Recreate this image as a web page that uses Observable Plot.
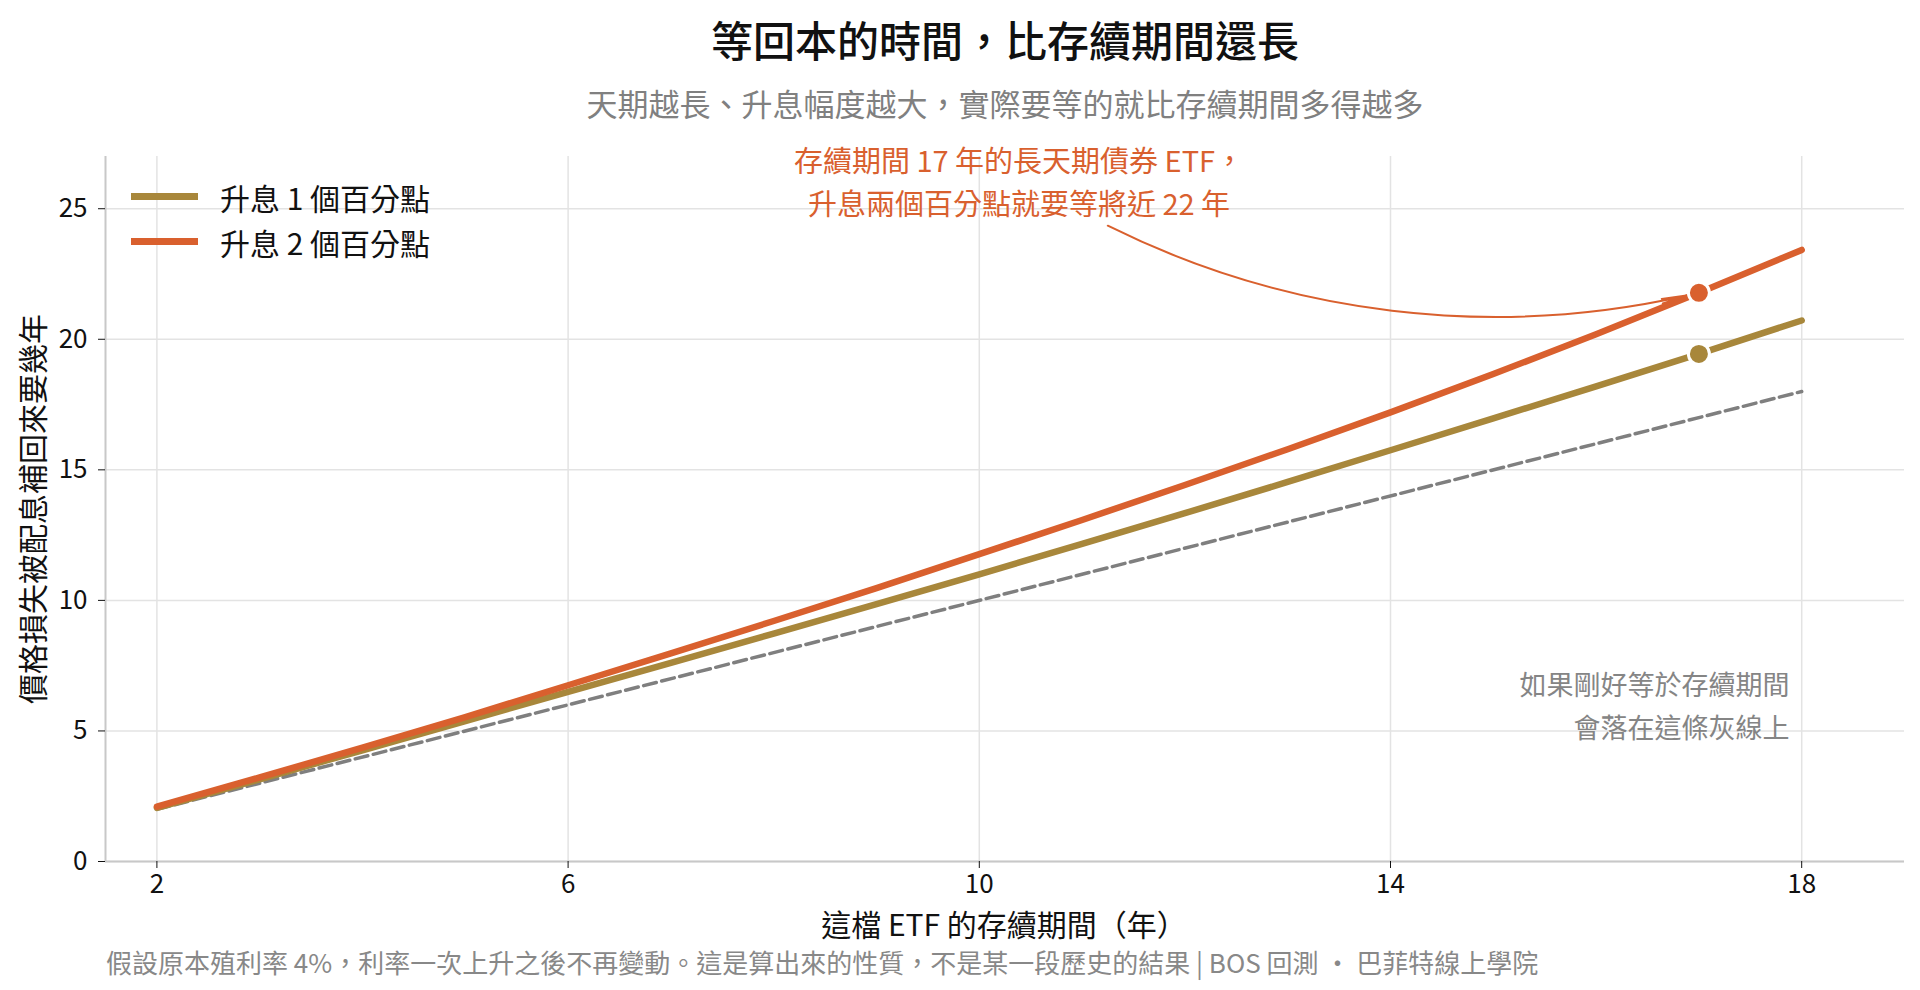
<!DOCTYPE html>
<html><head><meta charset="utf-8">
<script src="https://cdn.jsdelivr.net/npm/d3@7"></script>
<script src="https://cdn.jsdelivr.net/npm/@observablehq/plot@0.6"></script>
<style>
body{margin:0;background:#fff;font-family:"Noto Sans CJK TC","Noto Sans",sans-serif;}
#wrap{position:relative;width:1920px;height:990px;overflow:hidden;background:#fff}
#title{position:absolute;left:90px;width:1830px;top:0;height:78px;line-height:78px;text-align:center;font-size:42px;font-weight:500;color:#111}
#subtitle{position:absolute;left:90px;width:1830px;top:78px;height:50px;line-height:50px;text-align:center;font-size:31px;color:#808080}
#chart{position:absolute;left:0;top:128px}
#legend{position:absolute;left:131px;top:174px}
.lg{display:flex;align-items:center;height:45px;font-size:30px;color:#111}
.sw{width:67px;height:6.5px;margin-right:22px}
#caption{position:absolute;left:106px;top:940px;height:44px;line-height:44px;font-size:26px;color:#888;white-space:nowrap}
</style></head>
<body>
<div id="wrap">
  <div id="title"></div>
  <div id="subtitle"></div>
  <div id="chart"></div>
  <div id="legend"></div>
  <div id="caption"></div>
</div>
<script>
// ---- data ----
const durations = [2, 3, 4, 5, 6, 7, 8, 9, 10, 11, 12, 13, 14, 15, 16, 17, 18];
const rise1 = [2.05, 3.15, 4.26, 5.375, 6.5, 7.61, 8.73, 9.86, 11.0, 12.16, 13.34, 14.535, 15.75, 16.97, 18.2, 19.44, 20.72];
const rise2 = [2.1, 3.22, 4.36, 5.53, 6.75, 7.97, 9.21, 10.47, 11.77, 13.08, 14.42, 15.79, 17.2, 18.67, 20.19, 21.78, 23.42];
const seriesNames = ["升息 1 個百分點", "升息 2 個百分點"];
const seriesColors = ["#a8873b", "#d9602e"];
const parityX = [2, 18];
const parityY = [2, 18];
const xTicks = [2, 6, 10, 14, 18];
const yTicks = [0, 5, 10, 15, 20, 25];
const highlightDuration = 17;
const calloutStart = [11.25, 24.35];

const titleText = "等回本的時間，比存續期間還長";
const subtitleText = "天期越長、升息幅度越大，實際要等的就比存續期間多得越多";
const xLabel = "這檔 ETF 的存續期間（年）";
const yLabel = "價格損失被配息補回來要幾年";
const calloutText = "存續期間 17 年的長天期債券 ETF，\n升息兩個百分點就要等將近 22 年";
const parityNote = "如果剛好等於存續期間\n會落在這條灰線上";
const captionText = "假設原本殖利率 4%，利率一次上升之後不再變動。這是算出來的性質，不是某一段歷史的結果 | BOS 回測 ·  巴菲特線上學院";

// ---- build ----
const seriesValues = [rise1, rise2];
const rows = [];
seriesValues.forEach((vals, s) => durations.forEach((d, i) => rows.push({series: seriesNames[s], duration: d, years: vals[i]})));
const parity = parityX.map((x, i) => ({x, y: parityY[i]}));
const highlights = rows.filter(r => r.duration === highlightDuration);
const target = highlights.find(r => r.series === seriesNames[1]);
const callout = [{x1: calloutStart[0], y1: calloutStart[1], x2: target.duration, y2: target.years}];

const xDomain = [1.5, 19];
const yDomain = [0, 27];
const font = '"Noto Sans CJK TC", "Noto Sans", sans-serif';

const chart = Plot.plot({
  width: 1920, height: 812,
  marginLeft: 105, marginRight: 16, marginTop: 28, marginBottom: 79,
  style: {fontFamily: font, fontSize: "26px", color: "#111", background: "white", overflow: "visible"},
  x: {domain: xDomain},
  y: {domain: yDomain},
  color: {domain: seriesNames, range: seriesColors},
  marks: [
    Plot.gridX(xTicks, {stroke: "#e3e3e3", strokeOpacity: 1, strokeWidth: 1.5}),
    Plot.gridY(yTicks, {stroke: "#e3e3e3", strokeOpacity: 1, strokeWidth: 1.5}),
    Plot.ruleX([xDomain[0]], {stroke: "#c8c8c8", strokeWidth: 2}),
    Plot.ruleY([yDomain[0]], {stroke: "#c8c8c8", strokeWidth: 2}),
    Plot.axisX(xTicks, {tickSize: 7, tickPadding: 6, fontSize: 26, label: null}),
    Plot.axisY(yTicks, {tickSize: 7, tickPadding: 11, fontSize: 26, label: null}),
    Plot.line(parity, {x: "x", y: "y", stroke: "#7f7f7f", strokeWidth: 3.5, strokeDasharray: "13,5.6"}),
    Plot.line(rows, {x: "duration", y: "years", z: "series", stroke: "series", strokeWidth: 6.5}),
    Plot.arrow(callout, {x1: "x1", y1: "y1", x2: "x2", y2: "y2", bend: -20, stroke: seriesColors[1], strokeWidth: 2, headLength: 20, headAngle: 10, insetEnd: 11}),
    Plot.dot(highlights, {x: "duration", y: "years", fill: "series", r: 10.5, stroke: "white", strokeWidth: 3}),
    Plot.text([calloutText], {frameAnchor: "top", dx: 14, dy: 23.5, lineAnchor: "middle", fontSize: 29, lineHeight: 1.48, fill: seriesColors[1]}),
    Plot.text([parityNote], {frameAnchor: "bottom-right", textAnchor: "end", lineAnchor: "middle", dx: -115, dy: -158.5, fontSize: 27, lineHeight: 1.6, fill: "#858585"}),
    Plot.text([xLabel], {frameAnchor: "bottom", lineAnchor: "middle", dx: -1, dy: 65, fontSize: 30, fill: "#111"}),
    Plot.text([yLabel], {frameAnchor: "left", textAnchor: "middle", rotate: -90, dx: -71, fontSize: 30, fill: "#111"})
  ]
});
document.getElementById("chart").appendChild(chart);
document.getElementById("title").textContent = titleText;
document.getElementById("subtitle").textContent = subtitleText;
document.getElementById("caption").textContent = captionText;
const lg = document.getElementById("legend");
seriesNames.forEach((n, i) => {
  const row = document.createElement("div"); row.className = "lg";
  const sw = document.createElement("div"); sw.className = "sw"; sw.style.background = seriesColors[i];
  const t = document.createElement("span"); t.textContent = n;
  row.appendChild(sw); row.appendChild(t); lg.appendChild(row);
});
</script>
</body></html>
